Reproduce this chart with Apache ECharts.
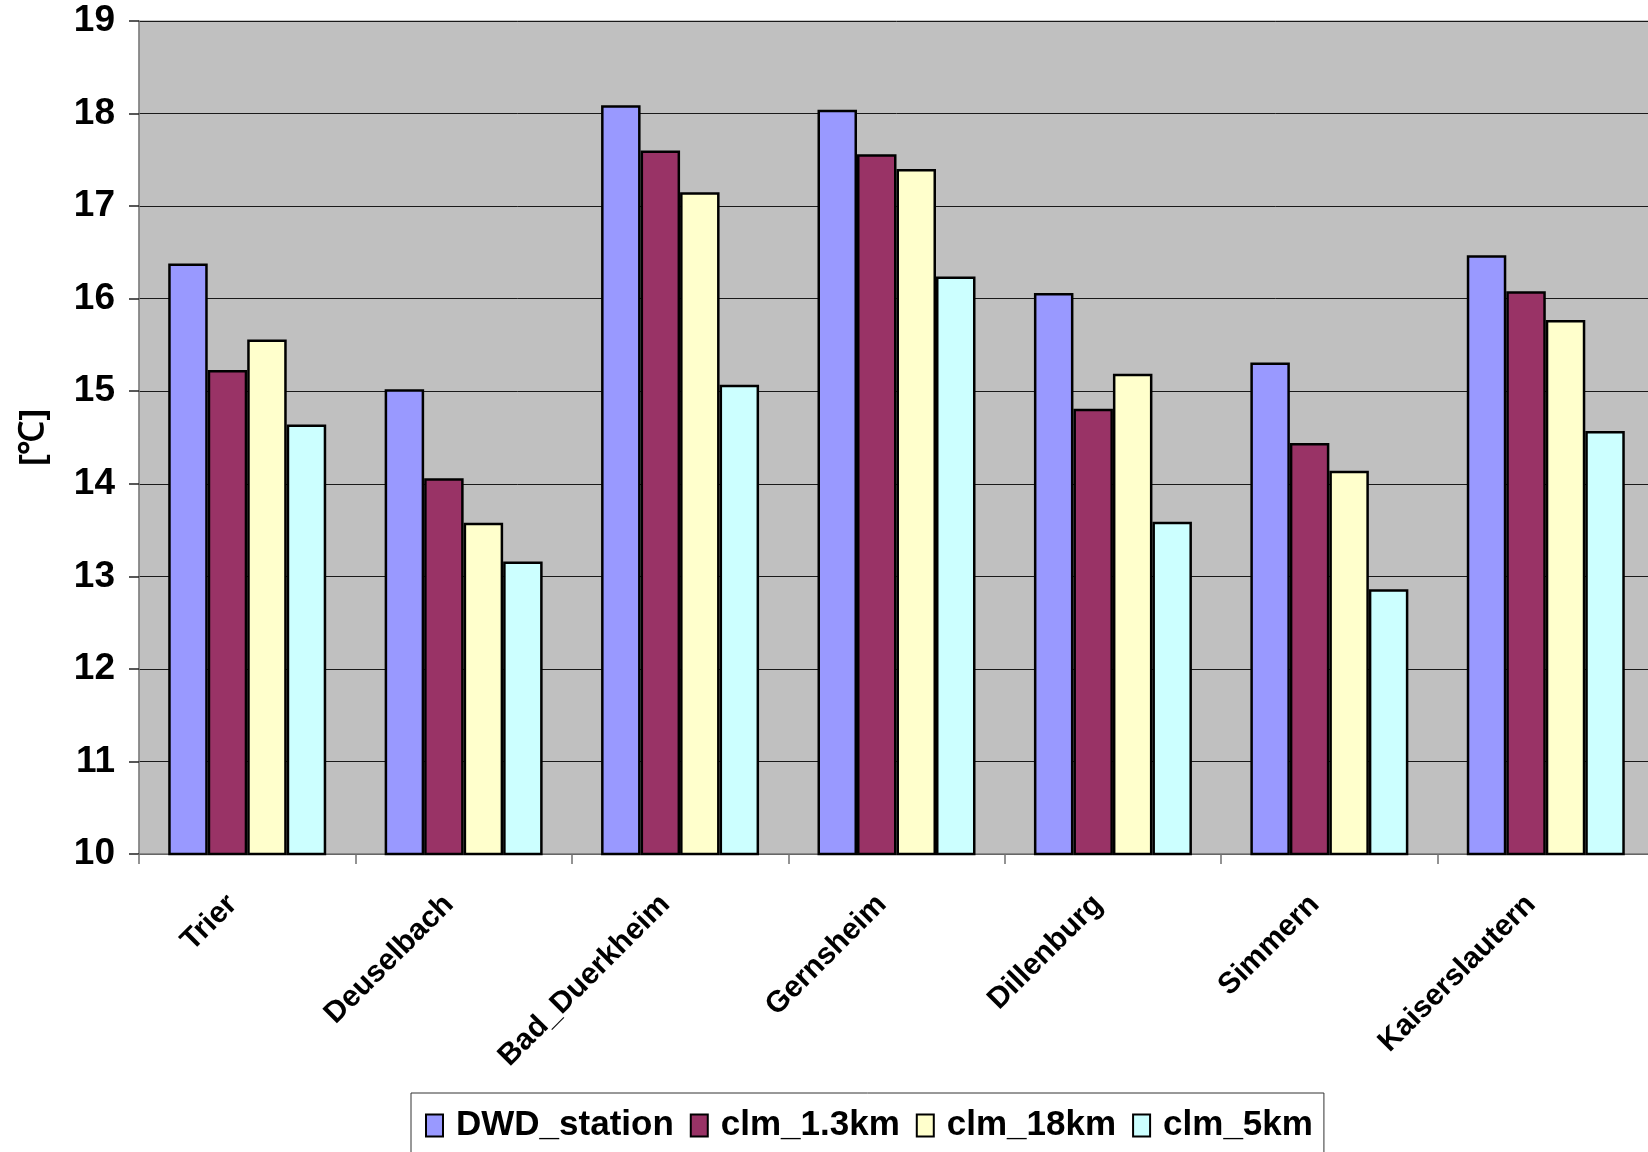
<!DOCTYPE html>
<html>
<head>
<meta charset="utf-8">
<script src="https://cdn.jsdelivr.net/npm/echarts@6/dist/echarts.min.js"></script>
<style>
  html, body { margin: 0; padding: 0; background: #ffffff; overflow: hidden; }
  /* canvas runs a few pixels past the right edge of the page, so the plot is cut off there */
  #chart { width: 1662px; height: 1152px; }
</style>
</head>
<body>
<div id="chart"></div>
<script>
// Stations (x-axis categories)
const stations = ['Trier', 'Deuselbach', 'Bad_Duerkheim', 'Gernsheim', 'Dillenburg', 'Simmern', 'Kaiserslautern'];

// Mean temperature per station [°C]
const dwdStation = [16.38, 15.02, 18.09, 18.04, 16.06, 15.31, 16.47];
const clm1_3km   = [15.23, 14.06, 17.60, 17.56, 14.81, 14.44, 16.08];
const clm18km    = [15.56, 13.58, 17.15, 17.40, 15.19, 14.14, 15.77];
const clm5km     = [14.64, 13.16, 15.07, 16.24, 13.59, 12.86, 14.57];

const seriesNames  = ['DWD_station', 'clm_1.3km', 'clm_18km', 'clm_5km'];
const seriesValues = [dwdStation, clm1_3km, clm18km, clm5km];
const seriesColors = ['#9999FF', '#993366', '#FFFFCC', '#CCFFFF'];

const FONT = '"Liberation Sans", Arial, sans-serif';

const chart = echarts.init(document.getElementById('chart'), null, { renderer: 'canvas' });

chart.setOption({
  animation: false,
  backgroundColor: '#ffffff',
  grid: {
    left: 139, top: 21, right: 8, bottom: 298,
    show: true,
    backgroundColor: '#C0C0C0',
    borderColor: '#8a8a8a',
    borderWidth: 1
  },
  legend: {
    left: 411, top: 1093,
    width: 912,
    padding: [15, 11, 15, 14],
    backgroundColor: '#ffffff',
    borderColor: '#333333',
    borderWidth: 1,
    itemWidth: 17, itemHeight: 22,
    itemGap: 16,
    icon: 'rect',
    textStyle: { fontFamily: FONT, fontWeight: 'bold', fontSize: 35, color: '#000', padding: [0, 0, 0, 8] },
    data: seriesNames
  },
  xAxis: {
    type: 'category',
    data: stations,
    axisLine: { lineStyle: { color: '#808080', width: 1.5 } },
    axisTick: { show: true, length: 10, lineStyle: { color: '#707070', width: 1.5 } },
    axisLabel: {
      rotate: 45, margin: 31,
      padding: [0, 21, 0, 0],
      fontFamily: FONT, fontWeight: 'bold', fontSize: 30, color: '#000'
    }
  },
  yAxis: {
    type: 'value',
    min: 10, max: 19, interval: 1,
    name: '[℃]',
    nameLocation: 'middle',
    nameRotate: 90,
    nameGap: 88,
    nameTextStyle: { fontFamily: FONT, fontWeight: 'bold', fontSize: 34, color: '#000' },
    axisLine: { show: true, lineStyle: { color: '#808080', width: 1.5 } },
    axisTick: { show: true, length: 10, lineStyle: { color: '#222', width: 1.5 } },
    axisLabel: { margin: 24, fontFamily: FONT, fontWeight: 'bold', fontSize: 37, color: '#000' },
    splitLine: { show: true, lineStyle: { color: '#1a1a1a', width: 1 } }
  },
  series: seriesNames.map((name, i) => ({
    name: name,
    type: 'bar',
    data: seriesValues[i],
    barGap: '0%',
    barCategoryGap: '27%',
    itemStyle: { color: seriesColors[i], borderColor: '#000', borderWidth: 2.5 }
  }))
});
</script>
</body>
</html>
